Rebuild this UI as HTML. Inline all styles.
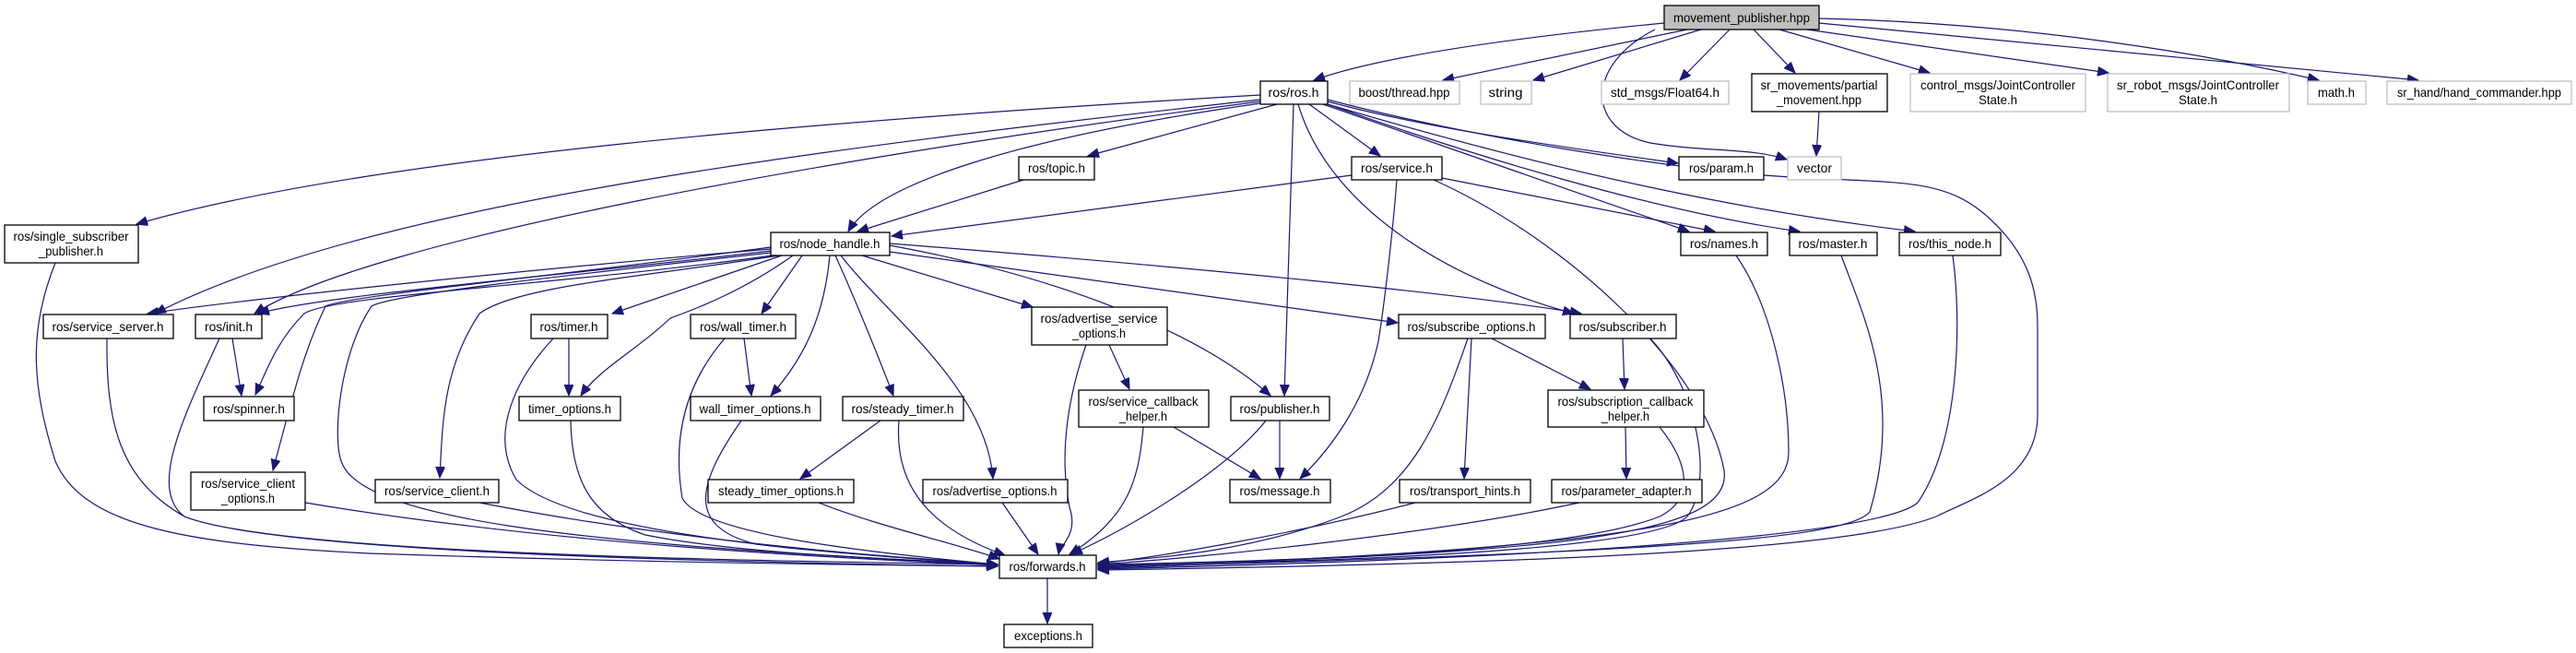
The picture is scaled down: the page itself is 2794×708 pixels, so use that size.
<!DOCTYPE html>
<html><head><meta charset="utf-8"><style>
html,body{margin:0;padding:0;background:#fff;}
svg{display:block;}
text{font-family:"Liberation Sans",sans-serif;font-size:14px;fill:#000;}
.n rect{fill:#fff;stroke:#000;stroke-width:1.3;}
.g rect{fill:#fff;stroke:#bfbfbf;stroke-width:1.3;}
.e path{fill:none;stroke:#191970;stroke-width:1.2;}
</style></head><body>
<svg width="2794" height="708" viewBox="0 0 2794 708" xmlns="http://www.w3.org/2000/svg">
<defs><marker id="a" markerUnits="userSpaceOnUse" markerWidth="14" markerHeight="12" refX="12" refY="5" orient="auto"><path d="M0,0 L12,5 L0,10 z" fill="#191970" stroke="#191970"/></marker></defs>
<g class="e" marker-end="url(#a)">
<!-- MP -->
<path d="M1805 25 C1650 40,1500 60,1425 87" marker-end="url(#a)"/>
<path d="M1830 32 L1565 87" marker-end="url(#a)"/>
<path d="M1845 32 L1663 87" marker-end="url(#a)"/>
<path d="M1876 32 L1822 87" marker-end="url(#a)"/>
<path d="M1902 32 L1947 79" marker-end="url(#a)"/>
<path d="M1930 32 L2093 79" marker-end="url(#a)"/>
<path d="M1960 32 L2287 79" marker-end="url(#a)"/>
<path d="M1973 20 C2200 25,2400 60,2515 87" marker-end="url(#a)"/>
<path d="M1973 25 L2623 87" marker-end="url(#a)"/>
<path d="M1795 32 C1720 70,1720 140,1790 155 C1850 165,1900 160,1938 173" marker-end="url(#a)"/>
<path d="M1973 121 L1970 169" marker-end="url(#a)"/>
<!-- ros.h -->
<path d="M1367 103 C900 130,400 170,148 243" marker-end="url(#a)"/>
<path d="M1367 108 C900 160,400 220,168 340" marker-end="url(#a)"/>
<path d="M1367 110 C900 170,400 260,276 340" marker-end="url(#a)"/>
<path d="M1367 112 C1100 150,950 200,920 251" marker-end="url(#a)"/>
<path d="M1385 113 L1180 169" marker-end="url(#a)"/>
<path d="M1420 113 L1497 169" marker-end="url(#a)"/>
<path d="M1403 113 L1393 429" marker-end="url(#a)"/>
<path d="M1408 113 C1440 220,1560 300,1707 340" marker-end="url(#a)"/>
<path d="M1440 110 C1550 140,1700 160,1820 177" marker-end="url(#a)"/>
<path d="M1435 113 L1832 251" marker-end="url(#a)"/>
<path d="M1440 113 C1600 170,1800 230,1952 251" marker-end="url(#a)"/>
<path d="M1440 113 C1700 190,1900 230,2077 251" marker-end="url(#a)"/>
<path d="M1440 108 C1600 150,1800 180,1913 190 C2050 200,2100 190,2150 230 C2210 280,2210 330,2210 360 L2210 450 C2210 520,2140 540,2100 560 C2000 600,1600 612,1191 618" marker-end="url(#a)"/>
<!-- topic / service -->
<path d="M1110 195 L930 251" marker-end="url(#a)"/>
<path d="M1466 190 L967 256" marker-end="url(#a)"/>
<path d="M1564 193 L1860 251" marker-end="url(#a)"/>
<path d="M1515 195 C1510 260,1500 340,1495 370 C1480 440,1440 490,1410 519" marker-end="url(#a)"/>
<path d="M1555 195 C1700 260,1850 400,1870 510 C1880 580,1700 600,1191 614" marker-end="url(#a)"/>
<!-- right column to fw -->
<path d="M1883 277 C1920 330,1940 420,1940 490 C1940 560,1800 595,1191 615" marker-end="url(#a)"/>
<path d="M1997 277 C2020 340,2065 430,2028 555 C2000 590,1700 600,1191 616" marker-end="url(#a)"/>
<path d="M2118 277 C2128 350,2125 480,2080 545 C2040 580,1700 605,1191 617" marker-end="url(#a)"/>
<path d="M1790 367 C1840 420,1860 520,1830 560 C1790 600,1400 610,1191 613" marker-end="url(#a)"/>
<path d="M1800 463 C1830 500,1840 540,1800 560 C1700 600,1400 608,1191 612" marker-end="url(#a)"/>
<path d="M1592 367 C1560 460,1530 530,1455 560 C1350 600,1250 605,1191 610" marker-end="url(#a)"/>
<path d="M1535 545 C1400 580,1250 605,1191 611" marker-end="url(#a)"/>
<path d="M1713 545 C1550 580,1300 605,1191 612" marker-end="url(#a)"/>
<!-- nh -->
<path d="M836 270 C600 290,300 320,160 340" marker-end="url(#a)"/>
<path d="M836 272 C600 300,350 320,280 340" marker-end="url(#a)"/>
<path d="M838 277 C600 310,360 320,330 340 C300 370,290 400,277 428" marker-end="url(#a)"/>
<path d="M836 268 C600 300,380 320,353 332 C330 380,320 420,296 510" marker-end="url(#a)"/>
<path d="M836 274 C600 300,420 320,403 332 C370 380,360 470,370 500 C390 560,600 590,1082 612" marker-end="url(#a)"/>
<path d="M845 277 C700 300,560 310,520 340 C480 400,480 460,477 518" marker-end="url(#a)"/>
<path d="M848 277 L664 340" marker-end="url(#a)"/>
<path d="M860 277 C800 320,740 340,727 345 C690 380,650 400,630 429" marker-end="url(#a)"/>
<path d="M870 277 L826 340" marker-end="url(#a)"/>
<path d="M900 277 C895 330,880 380,836 429" marker-end="url(#a)"/>
<path d="M906 277 C930 330,950 380,969 429" marker-end="url(#a)"/>
<path d="M912 277 C960 340,1070 420,1077 519" marker-end="url(#a)"/>
<path d="M935 277 L1120 333" marker-end="url(#a)"/>
<path d="M965 266 C1150 300,1300 360,1378 429" marker-end="url(#a)"/>
<path d="M965 273 L1516 350" marker-end="url(#a)"/>
<path d="M965 264 C1300 290,1600 320,1715 340" marker-end="url(#a)"/>
<!-- left to fw -->
<path d="M60 285 C30 360,35 420,60 500 C90 570,200 590,400 600 C700 610,900 612,1082 614" marker-end="url(#a)"/>
<path d="M116 367 C115 460,130 520,200 560 C300 600,800 610,1082 614" marker-end="url(#a)"/>
<path d="M238 367 C200 450,160 530,200 560 C300 600,800 608,1082 612" marker-end="url(#a)"/>
<path d="M252 367 L262 429" marker-end="url(#a)"/>
<path d="M600 367 C560 410,530 470,560 520 C620 580,900 600,1082 612" marker-end="url(#a)"/>
<path d="M617 367 L617 429" marker-end="url(#a)"/>
<path d="M619 456 C620 520,640 560,700 580 C800 600,950 605,1082 612" marker-end="url(#a)"/>
<path d="M786 367 C740 420,730 480,740 540 C760 580,950 600,1082 612" marker-end="url(#a)"/>
<path d="M807 367 L815 429" marker-end="url(#a)"/>
<path d="M804 456 C760 520,740 570,820 590 C900 600,1000 605,1082 612" marker-end="url(#a)"/>
<path d="M955 456 L868 519" marker-end="url(#a)"/>
<path d="M975 456 C970 520,1000 570,1090 602" marker-end="url(#a)"/>
<path d="M888 545 C950 570,1040 590,1084 606" marker-end="url(#a)"/>
<path d="M520 545 C700 580,900 600,1082 612" marker-end="url(#a)"/>
<path d="M331 545 C600 590,900 605,1082 613" marker-end="url(#a)"/>
<path d="M1087 545 L1126 601" marker-end="url(#a)"/>
<path d="M1178 374 C1155 440,1150 500,1160 550 C1170 580,1150 590,1148 601" marker-end="url(#a)"/>
<path d="M1203 374 L1225 422" marker-end="url(#a)"/>
<path d="M1240 463 C1235 520,1225 560,1160 601" marker-end="url(#a)"/>
<path d="M1273 463 L1367 519" marker-end="url(#a)"/>
<path d="M1373 456 C1330 510,1230 570,1162 601" marker-end="url(#a)"/>
<path d="M1388 456 L1388 519" marker-end="url(#a)"/>
<path d="M1596 367 L1588 519" marker-end="url(#a)"/>
<path d="M1618 367 L1725 422" marker-end="url(#a)"/>
<path d="M1760 367 L1762 422" marker-end="url(#a)"/>
<path d="M1763 463 L1764 519" marker-end="url(#a)"/>
<path d="M1136 627 L1136 676" marker-end="url(#a)"/>
</g>
<!-- nodes -->
<g><rect x="1805" y="6" width="168" height="26" fill="#bfbfbf" stroke="#000" stroke-width="1.3"/><text x="1889" y="24" text-anchor="middle" textLength="148" lengthAdjust="spacingAndGlyphs">movement_publisher.hpp</text></g>
<g class="n"><rect x="1367" y="88" width="73" height="25"/><text x="1403" y="105" text-anchor="middle" textLength="55" lengthAdjust="spacingAndGlyphs">ros/ros.h</text></g>
<g class="g"><rect x="1464" y="88" width="119" height="25"/><text x="1523" y="105" text-anchor="middle" textLength="99" lengthAdjust="spacingAndGlyphs">boost/thread.hpp</text></g>
<g class="g"><rect x="1606" y="88" width="55" height="25"/><text x="1633" y="105" text-anchor="middle" textLength="37" lengthAdjust="spacingAndGlyphs">string</text></g>
<g class="g"><rect x="1737" y="88" width="138" height="25"/><text x="1806" y="105" text-anchor="middle" textLength="118" lengthAdjust="spacingAndGlyphs">std_msgs/Float64.h</text></g>
<g class="n"><rect x="1900" y="80" width="147" height="41"/><text x="1973" y="97" text-anchor="middle" textLength="127" lengthAdjust="spacingAndGlyphs">sr_movements/partial</text><text x="1973" y="113" text-anchor="middle" textLength="92" lengthAdjust="spacingAndGlyphs">_movement.hpp</text></g>
<g class="g"><rect x="2072" y="80" width="190" height="41"/><text x="2167" y="97" text-anchor="middle" textLength="168" lengthAdjust="spacingAndGlyphs">control_msgs/JointController</text><text x="2167" y="113" text-anchor="middle" textLength="42" lengthAdjust="spacingAndGlyphs">State.h</text></g>
<g class="g"><rect x="2286" y="80" width="197" height="41"/><text x="2384" y="97" text-anchor="middle" textLength="176" lengthAdjust="spacingAndGlyphs">sr_robot_msgs/JointController</text><text x="2384" y="113" text-anchor="middle" textLength="42" lengthAdjust="spacingAndGlyphs">State.h</text></g>
<g class="g"><rect x="2503" y="88" width="63" height="25"/><text x="2534" y="105" text-anchor="middle" textLength="40" lengthAdjust="spacingAndGlyphs">math.h</text></g>
<g class="g"><rect x="2589" y="88" width="200" height="25"/><text x="2689" y="105" text-anchor="middle" textLength="178" lengthAdjust="spacingAndGlyphs">sr_hand/hand_commander.hpp</text></g>
<g class="n"><rect x="1105" y="170" width="82" height="25"/><text x="1146" y="187" text-anchor="middle" textLength="62" lengthAdjust="spacingAndGlyphs">ros/topic.h</text></g>
<g class="n"><rect x="1466" y="170" width="98" height="25"/><text x="1515" y="187" text-anchor="middle" textLength="78" lengthAdjust="spacingAndGlyphs">ros/service.h</text></g>
<g class="n"><rect x="1821" y="170" width="92" height="25"/><text x="1867" y="187" text-anchor="middle" textLength="70" lengthAdjust="spacingAndGlyphs">ros/param.h</text></g>
<g class="g"><rect x="1939" y="170" width="58" height="25"/><text x="1968" y="187" text-anchor="middle" textLength="38" lengthAdjust="spacingAndGlyphs">vector</text></g>
<g class="n"><rect x="5" y="244" width="145" height="41"/><text x="77" y="261" text-anchor="middle" textLength="125" lengthAdjust="spacingAndGlyphs">ros/single_subscriber</text><text x="77" y="277" text-anchor="middle" textLength="70" lengthAdjust="spacingAndGlyphs">_publisher.h</text></g>
<g class="n"><rect x="836" y="252" width="129" height="25"/><text x="900" y="269" text-anchor="middle" textLength="109" lengthAdjust="spacingAndGlyphs">ros/node_handle.h</text></g>
<g class="n"><rect x="1823" y="252" width="94" height="25"/><text x="1870" y="269" text-anchor="middle" textLength="74" lengthAdjust="spacingAndGlyphs">ros/names.h</text></g>
<g class="n"><rect x="1941" y="252" width="95" height="25"/><text x="1988" y="269" text-anchor="middle" textLength="75" lengthAdjust="spacingAndGlyphs">ros/master.h</text></g>
<g class="n"><rect x="2060" y="252" width="110" height="25"/><text x="2115" y="269" text-anchor="middle" textLength="90" lengthAdjust="spacingAndGlyphs">ros/this_node.h</text></g>
<g class="n"><rect x="47" y="341" width="141" height="26"/><text x="117" y="359" text-anchor="middle" textLength="121" lengthAdjust="spacingAndGlyphs">ros/service_server.h</text></g>
<g class="n"><rect x="212" y="341" width="72" height="26"/><text x="248" y="359" text-anchor="middle" textLength="52" lengthAdjust="spacingAndGlyphs">ros/init.h</text></g>
<g class="n"><rect x="576" y="341" width="83" height="26"/><text x="617" y="359" text-anchor="middle" textLength="63" lengthAdjust="spacingAndGlyphs">ros/timer.h</text></g>
<g class="n"><rect x="749" y="341" width="114" height="26"/><text x="806" y="359" text-anchor="middle" textLength="94" lengthAdjust="spacingAndGlyphs">ros/wall_timer.h</text></g>
<g class="n"><rect x="1119" y="333" width="147" height="41"/><text x="1192" y="350" text-anchor="middle" textLength="127" lengthAdjust="spacingAndGlyphs">ros/advertise_service</text><text x="1192" y="366" text-anchor="middle" textLength="58" lengthAdjust="spacingAndGlyphs">_options.h</text></g>
<g class="n"><rect x="1517" y="341" width="159" height="26"/><text x="1596" y="359" text-anchor="middle" textLength="139" lengthAdjust="spacingAndGlyphs">ros/subscribe_options.h</text></g>
<g class="n"><rect x="1703" y="341" width="115" height="26"/><text x="1760" y="359" text-anchor="middle" textLength="95" lengthAdjust="spacingAndGlyphs">ros/subscriber.h</text></g>
<g class="n"><rect x="221" y="430" width="98" height="26"/><text x="270" y="448" text-anchor="middle" textLength="78" lengthAdjust="spacingAndGlyphs">ros/spinner.h</text></g>
<g class="n"><rect x="563" y="430" width="110" height="26"/><text x="618" y="448" text-anchor="middle" textLength="90" lengthAdjust="spacingAndGlyphs">timer_options.h</text></g>
<g class="n"><rect x="749" y="430" width="141" height="26"/><text x="819" y="448" text-anchor="middle" textLength="121" lengthAdjust="spacingAndGlyphs">wall_timer_options.h</text></g>
<g class="n"><rect x="914" y="430" width="131" height="26"/><text x="979" y="448" text-anchor="middle" textLength="111" lengthAdjust="spacingAndGlyphs">ros/steady_timer.h</text></g>
<g class="n"><rect x="1170" y="423" width="141" height="40"/><text x="1240" y="440" text-anchor="middle" textLength="119" lengthAdjust="spacingAndGlyphs">ros/service_callback</text><text x="1240" y="456" text-anchor="middle" textLength="52" lengthAdjust="spacingAndGlyphs">_helper.h</text></g>
<g class="n"><rect x="1335" y="430" width="107" height="26"/><text x="1388" y="448" text-anchor="middle" textLength="87" lengthAdjust="spacingAndGlyphs">ros/publisher.h</text></g>
<g class="n"><rect x="1679" y="423" width="169" height="40"/><text x="1763" y="440" text-anchor="middle" textLength="147" lengthAdjust="spacingAndGlyphs">ros/subscription_callback</text><text x="1763" y="456" text-anchor="middle" textLength="52" lengthAdjust="spacingAndGlyphs">_helper.h</text></g>
<g class="n"><rect x="207" y="512" width="124" height="41"/><text x="269" y="529" text-anchor="middle" textLength="102" lengthAdjust="spacingAndGlyphs">ros/service_client</text><text x="269" y="545" text-anchor="middle" textLength="58" lengthAdjust="spacingAndGlyphs">_options.h</text></g>
<g class="n"><rect x="407" y="520" width="134" height="25"/><text x="474" y="537" text-anchor="middle" textLength="114" lengthAdjust="spacingAndGlyphs">ros/service_client.h</text></g>
<g class="n"><rect x="768" y="520" width="158" height="25"/><text x="847" y="537" text-anchor="middle" textLength="136" lengthAdjust="spacingAndGlyphs">steady_timer_options.h</text></g>
<g class="n"><rect x="1001" y="520" width="157" height="25"/><text x="1079" y="537" text-anchor="middle" textLength="135" lengthAdjust="spacingAndGlyphs">ros/advertise_options.h</text></g>
<g class="n"><rect x="1334" y="520" width="109" height="25"/><text x="1388" y="537" text-anchor="middle" textLength="87" lengthAdjust="spacingAndGlyphs">ros/message.h</text></g>
<g class="n"><rect x="1518" y="520" width="142" height="25"/><text x="1589" y="537" text-anchor="middle" textLength="120" lengthAdjust="spacingAndGlyphs">ros/transport_hints.h</text></g>
<g class="n"><rect x="1683" y="520" width="163" height="25"/><text x="1764" y="537" text-anchor="middle" textLength="141" lengthAdjust="spacingAndGlyphs">ros/parameter_adapter.h</text></g>
<g class="n"><rect x="1084" y="602" width="105" height="25"/><text x="1136" y="619" text-anchor="middle" textLength="83" lengthAdjust="spacingAndGlyphs">ros/forwards.h</text></g>
<g class="n"><rect x="1089" y="677" width="96" height="25"/><text x="1137" y="694" text-anchor="middle" textLength="74" lengthAdjust="spacingAndGlyphs">exceptions.h</text></g>
</svg>
</body></html>
